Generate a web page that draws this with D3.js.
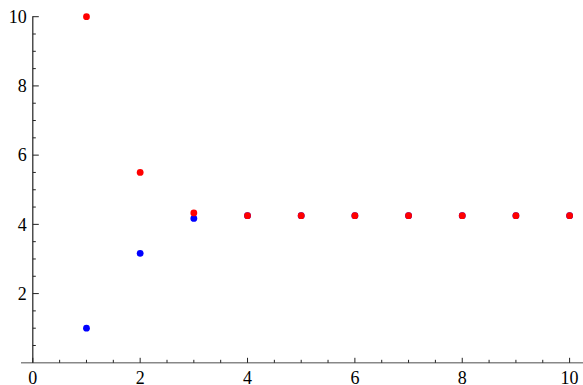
<!DOCTYPE html>
<html><head><meta charset="utf-8">
<script src="https://cdn.jsdelivr.net/npm/d3@7"></script>
<style>body{margin:0;background:#fff}svg{display:block}
text{font-family:"Liberation Serif","Times New Roman",Times,serif;font-size:18px;fill:#000}</style>
</head><body>
<script>
const steps = [1,2,3,4,5,6,7,8,9,10];
const arith = [10, 5.5, 4.3311, 4.2508, 4.2504, 4.2504, 4.2504, 4.2504, 4.2504, 4.2504];
const geom = [1, 3.1623, 4.1704, 4.2500, 4.2504, 4.2504, 4.2504, 4.2504, 4.2504, 4.2504];
const xTicks = [0,2,4,6,8,10];
const yTicks = [2,4,6,8,10];

const W=583,H=385;
const svg=d3.select("body").append("svg").attr("width",W).attr("height",H);
const x=d3.scaleLinear().domain([0,10]).range([32.8,569.6]);
const y=d3.scaleLinear().domain([0,10]).range([362.8,16.7]);

// x axis
svg.append("line").attr("x1",21).attr("x2",W).attr("y1",y(0)).attr("y2",y(0))
  .attr("stroke","#888").attr("stroke-width",1.4);
const xMinor=d3.range(0,10.01,0.5);
svg.selectAll(".xt").data(xMinor).enter().append("line")
  .attr("x1",d=>x(d)).attr("x2",d=>x(d))
  .attr("y1",y(0)).attr("y2",d=>y(0)-(Number.isInteger(d/2)?5:3))
  .attr("stroke","#222").attr("stroke-width",1);
svg.selectAll(".xl").data(xTicks).enter().append("text")
  .attr("x",d=>x(d)).attr("y",384).attr("text-anchor","middle").text(d=>d);

// y axis
svg.append("line").attr("x1",x(0)).attr("x2",x(0)).attr("y1",y(10)-0.5).attr("y2",y(0))
  .attr("stroke","#222").attr("stroke-width",1.2);
const yMinor=d3.range(0.5,10.01,0.5);
svg.selectAll(".yt").data(yMinor).enter().append("line")
  .attr("x1",x(0)).attr("x2",d=>x(0)+(Number.isInteger(d/2)?6:3))
  .attr("y1",d=>y(d)).attr("y2",d=>y(d))
  .attr("stroke","#222").attr("stroke-width",1);
svg.selectAll(".yl").data(yTicks).enter().append("text")
  .attr("x",x(0)-6).attr("y",d=>y(d)).attr("dy","0.35em").attr("text-anchor","end").text(d=>d);

// points
svg.selectAll(".g").data(steps).enter().append("circle")
  .attr("cx",d=>x(d)).attr("cy",(d,i)=>y(geom[i])).attr("r",3.4).attr("fill","#0000ff");
svg.selectAll(".a").data(steps).enter().append("circle")
  .attr("cx",d=>x(d)).attr("cy",(d,i)=>y(arith[i])).attr("r",3.4).attr("fill","#ff0000");
</script>
</body></html>
